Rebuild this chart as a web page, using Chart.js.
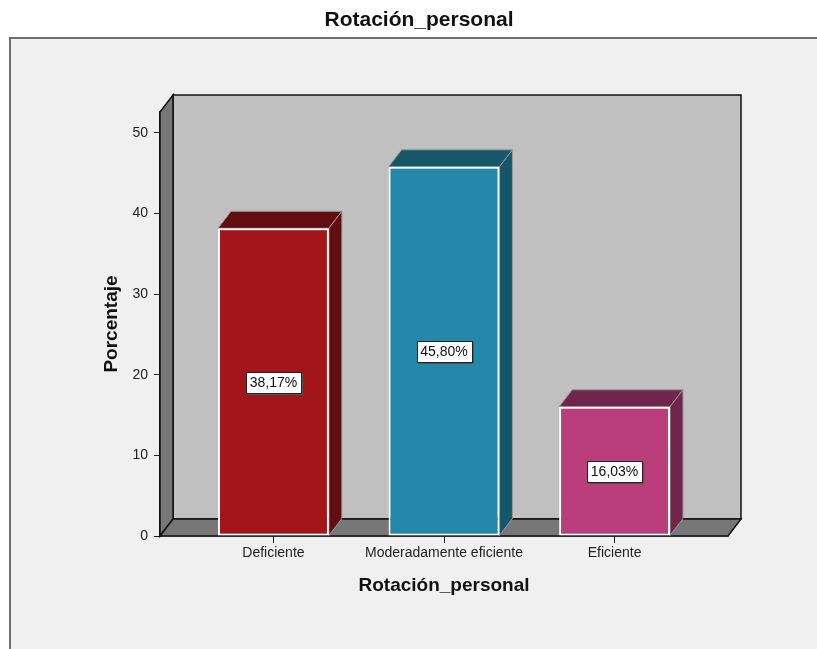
<!DOCTYPE html>
<html>
<head>
<meta charset="utf-8">
<script src="https://cdn.jsdelivr.net/npm/chart.js@4/dist/chart.umd.min.js"></script>
<style>
  html, body { margin: 0; padding: 0; background: #ffffff; }
  #wrap { width: 817px; height: 649px; }
</style>
</head>
<body>
<div id="wrap"><canvas id="c" width="817" height="649"></canvas></div>
<script>
// Rotación_personal — percentage per category
const chartTitle = 'Rotación_personal';
const categories = ['Deficiente', 'Moderadamente eficiente', 'Eficiente'];
const percentages = [38.17, 45.80, 16.03];
const yTickValues = [0, 10, 20, 30, 40, 50];

const frontColors = ['#a2161b', '#2388aa', '#b93e7b'];
const sideColors = ['#620d10', '#155669', '#70254b'];

// depth of the pseudo-3D box (pixels)
const DX = 13, DY = -17;
const FONT = "'Liberation Sans', Arial, sans-serif";

function fmtPct(v) {
  return v.toFixed(2).replace('.', ',') + '%';
}

function poly(ctx, pts, fill, stroke, lw) {
  ctx.beginPath();
  ctx.moveTo(pts[0][0], pts[0][1]);
  for (let i = 1; i < pts.length; i++) ctx.lineTo(pts[i][0], pts[i][1]);
  ctx.closePath();
  if (fill) { ctx.fillStyle = fill; ctx.fill(); }
  if (stroke) { ctx.strokeStyle = stroke; ctx.lineWidth = lw || 1; ctx.stroke(); }
}

const box3d = {
  id: 'box3d',
  beforeDraw(chart) {
    const ctx = chart.ctx;
    ctx.save();
    ctx.fillStyle = '#ffffff';
    ctx.fillRect(0, 0, chart.width, chart.height);
    ctx.fillStyle = '#f0f0f0';
    ctx.fillRect(10, 38, chart.width - 10, chart.height - 38);
    ctx.strokeStyle = '#6e6e6e';
    ctx.lineWidth = 2;
    ctx.beginPath();
    ctx.moveTo(10, chart.height);
    ctx.lineTo(10, 38);
    ctx.lineTo(chart.width, 38);
    ctx.stroke();
    // chart heading
    ctx.fillStyle = '#111';
    ctx.font = 'bold 21px ' + FONT;
    ctx.textAlign = 'center';
    ctx.textBaseline = 'middle';
    ctx.fillText(chartTitle, 419, 20);
    ctx.restore();
  },
  beforeDatasetsDraw(chart) {
    const { ctx, chartArea: a, scales: { y } } = chart;
    const y0 = y.getPixelForValue(0);
    const yT = y.getPixelForValue(y.max);
    const L = a.left, R = a.right;
    ctx.save();
    ctx.lineJoin = 'miter';
    // back wall
    poly(ctx, [[L + DX, yT + DY], [R + DX, yT + DY], [R + DX, y0 + DY], [L + DX, y0 + DY]], '#c0c0c0', '#111', 1.5);
    // left wall
    poly(ctx, [[L, yT], [L + DX, yT + DY], [L + DX, y0 + DY], [L, y0]], '#777777', '#111', 1.5);
    // floor
    poly(ctx, [[L, y0], [L + DX, y0 + DY], [R + DX, y0 + DY], [R, y0]], '#777777', '#111', 1.5);

    // top and side faces of each bar
    const meta = chart.getDatasetMeta(0);
    meta.data.forEach((bar, i) => {
      const p = bar.getProps(['x', 'y', 'base', 'width'], true);
      const l = p.x - p.width / 2, r = p.x + p.width / 2;
      poly(ctx, [[l, p.y], [l + DX, p.y + DY], [r + DX, p.y + DY], [r, p.y]], sideColors[i], '#9a9a9a', 1);
      poly(ctx, [[r, p.y], [r + DX, p.y + DY], [r + DX, p.base + DY], [r, p.base]], sideColors[i], '#9a9a9a', 1);
    });
    ctx.restore();
  },
  afterDatasetsDraw(chart) {
    const { ctx, scales: { y } } = chart;
    const meta = chart.getDatasetMeta(0);
    ctx.save();
    ctx.font = '14px ' + FONT;
    ctx.textAlign = 'center';
    ctx.textBaseline = 'middle';
    meta.data.forEach((bar, i) => {
      const v = percentages[i];
      const txt = fmtPct(v);
      const cx = bar.x;
      const cy = y.getPixelForValue(v / 2);
      const w = Math.round(ctx.measureText(txt).width + 8);
      const h = 21;
      const bx = Math.round(cx - w / 2) + 0.5, by = Math.round(cy - h / 2) + 0.5;
      ctx.fillStyle = '#ffffff';
      ctx.fillRect(bx, by, w, h);
      ctx.strokeStyle = '#222';
      ctx.lineWidth = 1;
      ctx.strokeRect(bx, by, w, h);
      ctx.strokeStyle = '#555';
      ctx.beginPath();
      ctx.moveTo(bx + 1, by + h + 1);
      ctx.lineTo(bx + w + 1, by + h + 1);
      ctx.lineTo(bx + w + 1, by + 1);
      ctx.stroke();
      ctx.fillStyle = '#111';
      ctx.fillText(txt, cx, cy + 1);
    });
    ctx.restore();
  }
};

new Chart(document.getElementById('c'), {
  type: 'bar',
  data: {
    datasets: [{
      data: percentages.map((v, i) => ({ x: i, y: v })),
      backgroundColor: frontColors,
      borderColor: '#ffffff',
      borderWidth: 2,
      borderSkipped: false,
      categoryPercentage: 1,
      barPercentage: 0.65
    }]
  },
  options: {
    responsive: false,
    animation: false,
    layout: { padding: { left: 0, right: 89, top: 112, bottom: 0 } },
    plugins: {
      legend: { display: false },
      tooltip: { enabled: false },
      title: { display: false }
    },
    scales: {
      x: {
        type: 'linear',
        offset: false,
        min: -0.665,
        max: 2.665,
        afterBuildTicks(scale) {
          scale.ticks = categories.map((_, i) => ({ value: i }));
        },
        afterFit(scale) { scale.height = 113; },
        ticks: {
          color: '#222',
          font: { family: FONT, size: 14 },
          padding: 2,
          maxRotation: 0,
          autoSkip: false,
          callback: (v) => categories[v] ?? ''
        },
        grid: { display: true, offset: false, drawOnChartArea: false, drawTicks: true, tickLength: 7, color: '#222' },
        border: { display: true, color: '#111', width: 1.5 },
        title: {
          display: true,
          text: 'Rotación_personal',
          color: '#111',
          font: { family: FONT, size: 19, weight: 'bold' },
          padding: { top: 0, bottom: 52 }
        }
      },
      y: {
        min: 0,
        max: 52.6,
        afterBuildTicks(scale) {
          scale.ticks = yTickValues.map(v => ({ value: v }));
        },
        afterFit(scale) { scale.width = 160; },
        ticks: {
          color: '#222',
          font: { family: FONT, size: 14 },
          padding: 6
        },
        grid: { display: true, drawOnChartArea: false, drawTicks: true, tickLength: 6, color: '#222' },
        border: { display: true, color: '#111', width: 1.5 },
        title: {
          display: true,
          text: 'Porcentaje',
          color: '#111',
          font: { family: FONT, size: 19, weight: 'bold' },
          padding: { top: 100, bottom: 0 }
        }
      }
    }
  },
  plugins: [box3d]
});
</script>
</body>
</html>
